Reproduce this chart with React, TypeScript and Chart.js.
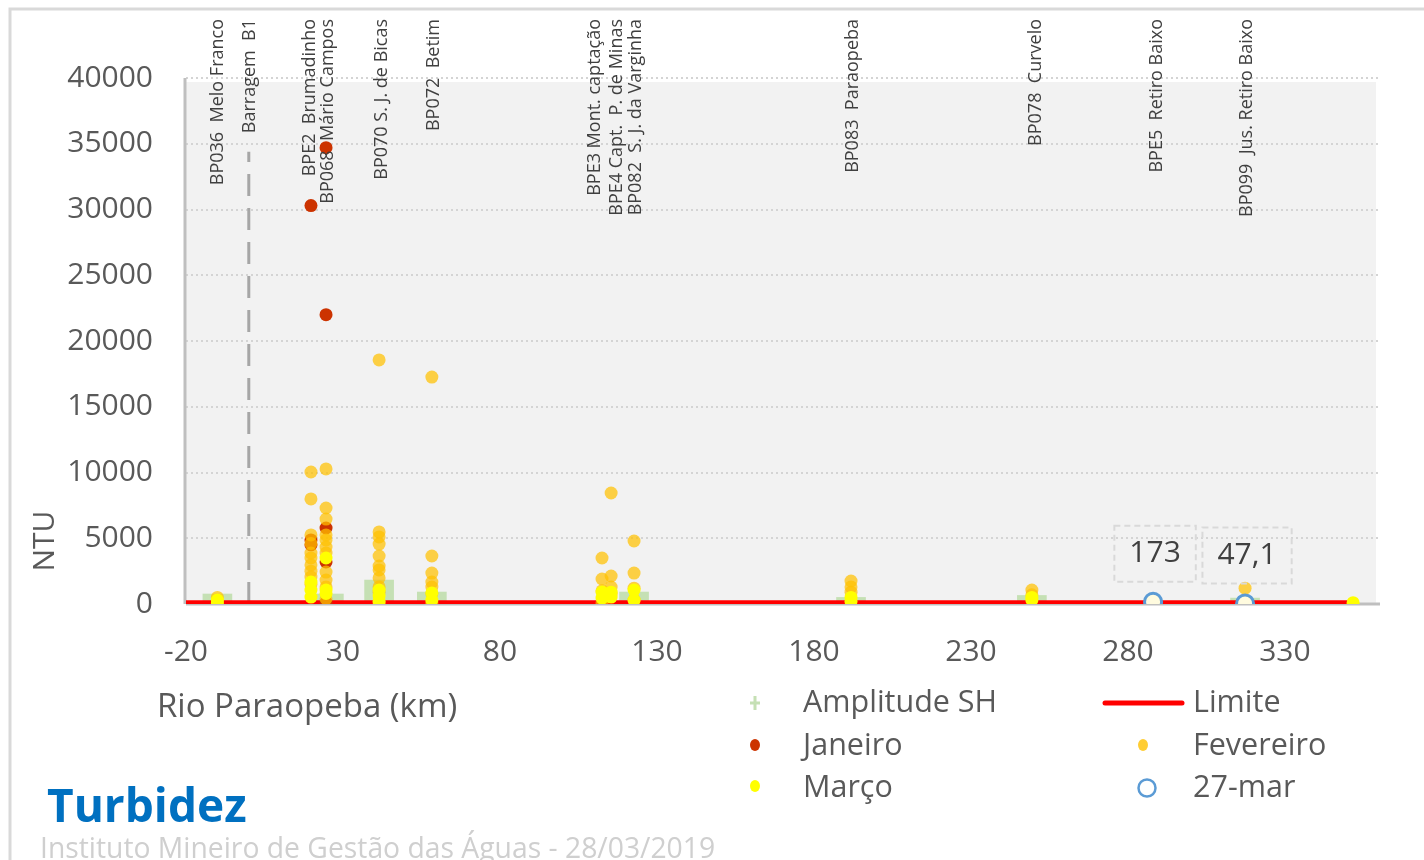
import React, { useEffect, useRef } from 'react';
import { Chart, registerables } from 'chart.js';

Chart.register(...registerables);

// ---------- axis ticks ----------
const xTicks = [-20, 30, 80, 130, 180, 230, 280, 330];
const yTicks = [0, 5000, 10000, 15000, 20000, 25000, 30000, 35000, 40000];

// ---------- station labels (km along the river) ----------
const stationNames = [
  'BP036  Melo Franco',
  'Barragem  B1',
  'BPE2  Brumadinho',
  'BP068  Mário Campos',
  'BP070 S. J. de Bicas',
  'BP072  Betim',
  'BPE3 Mont. captação',
  'BPE4 Capt.  P. de Minas',
  'BP082  S. J. da Varginha',
  'BP083  Paraopeba',
  'BP078  Curvelo',
  'BPE5  Retiro Baixo',
  'BP099  Jus. Retiro Baixo',
];
const stationLabelKm = [-9.8, 0.4, 19.5, 25.2, 42.4, 59, 110.3, 117.3, 123.3, 192.4, 250.7, 289.2, 317.9];

// ---------- Amplitude SH ----------
const ampKm = [-10, 25.5, 41.5, 58.3, 122.7, 191.8, 249.4, 317.3];
const ampVal = [760, 760, 1820, 910, 910, 500, 650, 450];

// ---------- Janeiro ----------
const janKm = [19.8, 19.8, 19.8, 24.6, 24.6, 24.6, 24.6, 24.6];
const janVal = [30300, 4870, 4500, 34700, 22000, 5780, 3200, 100];

// ---------- Fevereiro ----------
const fevKm = [
  -10,
  19.8, 19.8, 19.8, 19.8, 19.8, 19.8, 19.8, 19.8, 19.8, 19.8,
  24.6, 24.6, 24.6, 24.6, 24.6, 24.6, 24.6, 24.6, 24.6, 24.6, 24.6,
  41.5, 41.5, 41.5, 41.5, 41.5, 41.5, 41.5, 41.5, 41.5, 41.5, 41.5,
  58.3, 58.3, 58.3, 58.3, 58.3, 58.3, 58.3,
  112.5, 112.5, 112.5, 112.5,
  115.4, 115.4, 115.4, 115.4,
  122.7, 122.7, 122.7, 122.7,
  191.8, 191.8, 191.8,
  249.4, 249.4,
  317.3,
];
const fevVal = [
  500,
  10040, 7990, 5250, 4600, 3880, 3500, 2970, 2500, 2050, 1500,
  10270, 7300, 6460, 5250, 4870, 4330, 3880, 2430, 1820, 1300, 400,
  18560, 5480, 5100, 4560, 3650, 2890, 2590, 1980, 1300, 900, 0,
  17260, 3650, 2350, 1670, 1290, 800, 100,
  3500, 1900, 1000, 100,
  8440, 2130, 1290, 800,
  4790, 2350, 1200, 300,
  1750, 1300, 900,
  1060, 700,
  1200,
];

// ---------- Março ----------
const marKm = [
  -10, -10,
  19.8, 19.8, 19.8,
  24.6, 24.6, 24.6,
  41.5, 41.5, 41.5,
  58.3, 58.3,
  112.5, 112.5,
  115.4, 115.4,
  122.7, 122.7,
  191.8, 191.8,
  249.4, 249.4,
  351.7,
];
const marVal = [
  300, 100,
  1670, 1060, 530,
  3500, 1060, 800,
  1060, 600, 200,
  840, 300,
  910, 450,
  900, 530,
  1060, 300,
  500, 200,
  500, 300,
  100,
];

// ---------- 27-mar ----------
const mar27Km = [288, 317.3];
const mar27Val = [173, 47.1];

// ---------- Limite ----------
const limKm = [-20, 351.7];
const limVal = [100, 100];

// ---------- Barragem B1 marker ----------
const damKm = [0, 0];
const damVal = [0, 34400];

const pts = (xs: number[], ys: number[]) => xs.map((x, i) => ({ x, y: ys[i] }));

const FONT = '"Open Sans", "DejaVu Sans", sans-serif';
const TXT = '#595959';

const bgPlugin = {
  id: 'bgPlugin',
  beforeDatasetsDraw(chart: any) {
    const { ctx, chartArea } = chart;
    const { left, top, right, bottom } = chartArea;
    const y = chart.scales.y;
    ctx.save();
    // outer chart border
    ctx.strokeStyle = '#D9D9D9';
    ctx.lineWidth = 3;
    ctx.beginPath();
    ctx.moveTo(10, 860);
    ctx.lineTo(10, 9);
    ctx.lineTo(1424, 9);
    ctx.stroke();
    // plot background
    ctx.fillStyle = '#F2F2F2';
    ctx.fillRect(left, top + 4, right - left, bottom - top - 4);
    // dotted grid
    ctx.strokeStyle = '#D4D4D4';
    ctx.lineWidth = 2;
    ctx.setLineDash([2, 3]);
    yTicks.forEach((v) => {
      if (v === 0) return;
      const py = Math.round(y.getPixelForValue(v));
      ctx.beginPath();
      ctx.moveTo(left, py);
      ctx.lineTo(right + 4, py);
      ctx.stroke();
    });
    ctx.setLineDash([]);
    // axes lines
    ctx.strokeStyle = '#BFBFBF';
    ctx.lineWidth = 3;
    ctx.beginPath();
    ctx.moveTo(left - 1, top);
    ctx.lineTo(left - 1, bottom);
    ctx.stroke();
    ctx.beginPath();
    ctx.moveTo(left, bottom);
    ctx.lineTo(right + 4, bottom);
    ctx.stroke();
    ctx.restore();
  },
};

const overlayPlugin = {
  id: 'overlayPlugin',
  afterDraw(chart: any) {
    const { ctx } = chart;
    const x = chart.scales.x;
    const y = chart.scales.y;
    ctx.save();

    // station labels (rotated)
    ctx.font = `18px ${FONT}`;
    ctx.fillStyle = '#404040';
    stationNames.forEach((name, i) => {
      const px = x.getPixelForValue(stationLabelKm[i]);
      ctx.save();
      ctx.translate(px, 19);
      ctx.rotate(-Math.PI / 2);
      ctx.textAlign = 'right';
      ctx.textBaseline = 'middle';
      ctx.fillText(name, 0, 0);
      ctx.restore();
    });

    // data labels for 27-mar
    ctx.font = `30px ${FONT}`;
    mar27Km.forEach((km, i) => {
      const px = x.getPixelForValue(km);
      const py = y.getPixelForValue(mar27Val[i]);
      const label = String(mar27Val[i]).replace('.', ',');
      const w = ctx.measureText(label).width + 30;
      const h = 56;
      const cx = px + 2;
      const cy = py - 48;
      ctx.strokeStyle = '#D9D9D9';
      ctx.lineWidth = 2;
      ctx.setLineDash([6, 4]);
      ctx.strokeRect(cx - w / 2, cy - h / 2, w, h);
      ctx.setLineDash([]);
      ctx.fillStyle = '#404040';
      ctx.textAlign = 'center';
      ctx.textBaseline = 'middle';
      ctx.fillText(label, cx, cy);
    });

    // axis titles
    ctx.fillStyle = TXT;
    ctx.font = `33px ${FONT}`;
    ctx.textAlign = 'left';
    ctx.textBaseline = 'middle';
    ctx.fillText('Rio Paraopeba (km)', 157, 708);

    ctx.save();
    ctx.translate(45, 541);
    ctx.rotate(-Math.PI / 2);
    ctx.textAlign = 'center';
    ctx.textBaseline = 'middle';
    ctx.font = `30px ${FONT}`;
    ctx.fillText('NTU', 0, 0);
    ctx.restore();

    // legend
    const rows = [703, 746, 788];
    ctx.font = `30.5px ${FONT}`;
    ctx.textAlign = 'left';
    ctx.textBaseline = 'middle';
    ctx.fillStyle = TXT;
    ctx.fillText('Amplitude SH', 803, rows[0]);
    ctx.fillText('Janeiro', 803, rows[1]);
    ctx.fillText('Março', 803, rows[2]);
    ctx.fillText('Limite', 1193, rows[0]);
    ctx.fillText('Fevereiro', 1193, rows[1]);
    ctx.fillText('27-mar', 1193, rows[2]);

    // markers
    ctx.strokeStyle = '#C5E0B4';
    ctx.lineWidth = 3;
    ctx.beginPath();
    ctx.moveTo(755, rows[0] - 7);
    ctx.lineTo(755, rows[0] + 7);
    ctx.moveTo(750, rows[0]);
    ctx.lineTo(760, rows[0]);
    ctx.stroke();

    ctx.strokeStyle = '#FF0000';
    ctx.lineWidth = 5;
    ctx.lineCap = 'round';
    ctx.beginPath();
    ctx.moveTo(1105, rows[0]);
    ctx.lineTo(1182, rows[0]);
    ctx.stroke();

    const dot = (cx: number, cy: number, color: string) => {
      ctx.fillStyle = color;
      ctx.beginPath();
      ctx.ellipse(cx, cy, 5, 6, 0, 0, Math.PI * 2);
      ctx.fill();
    };
    dot(755, rows[1] - 1, '#CC3300');
    dot(1143, rows[1] - 1, 'rgba(255,192,0,0.8)');
    dot(755, rows[2] - 2, '#FFFF00');
    ctx.strokeStyle = '#5B9BD5';
    ctx.lineWidth = 2.5;
    ctx.fillStyle = '#FFFFFF';
    ctx.beginPath();
    ctx.arc(1147, rows[2], 8.5, 0, Math.PI * 2);
    ctx.fill();
    ctx.stroke();

    // title + footer
    ctx.fillStyle = '#0070C0';
    ctx.font = `bold 46px ${FONT}`;
    ctx.textBaseline = 'alphabetic';
    ctx.fillText('Turbidez', 47, 822);
    ctx.fillStyle = '#CFCFCF';
    ctx.font = `28.3px ${FONT}`;
    ctx.fillText('Instituto Mineiro de Gestão das Águas - 28/03/2019', 40, 858);

    ctx.restore();
  },
};

export default function App() {
  const ref = useRef<HTMLCanvasElement>(null);

  useEffect(() => {
    const canvas = ref.current;
    if (!canvas) return;
    const chart = new Chart(canvas, {
      type: 'scatter',
      data: {
        datasets: [
          {
            type: 'scatter',
            label: '27-mar',
            data: pts(mar27Km, mar27Val),
            pointRadius: 8.5,
            pointBorderWidth: 3,
            pointBorderColor: '#5B9BD5',
            pointBackgroundColor: '#FFFBDF',
            order: 0,
          },
          {
            type: 'scatter',
            label: 'Março',
            data: pts(marKm, marVal),
            pointRadius: 6.5,
            pointBorderWidth: 0,
            pointBackgroundColor: '#FFFF00',
            pointBorderColor: '#FFFF00',
            order: 1,
          },
          {
            type: 'scatter',
            label: 'Fevereiro',
            data: pts(fevKm, fevVal),
            pointRadius: 6.5,
            pointBorderWidth: 0,
            pointBackgroundColor: 'rgba(255,192,0,0.72)',
            pointBorderColor: 'rgba(255,192,0,0.72)',
            order: 2,
          },
          {
            type: 'scatter',
            label: 'Janeiro',
            data: pts(janKm, janVal),
            pointRadius: 6.5,
            pointBorderWidth: 0,
            pointBackgroundColor: '#CC3300',
            pointBorderColor: '#CC3300',
            order: 3,
          },
          {
            type: 'line',
            label: 'Limite',
            data: pts(limKm, limVal),
            borderColor: '#FF0000',
            borderWidth: 5,
            pointRadius: 0,
            fill: false,
            order: 4,
          },
          {
            type: 'line',
            label: 'Barragem B1',
            data: pts(damKm, damVal),
            borderColor: '#A6A6A6',
            borderWidth: 3,
            borderDash: [22, 12],
            pointRadius: 0,
            fill: false,
            order: 5,
          },
          {
            type: 'bar',
            label: 'Amplitude SH',
            data: pts(ampKm, ampVal),
            backgroundColor: '#C5E0B4',
            borderWidth: 0,
            barThickness: 29,
            order: 6,
          } as any,
        ],
      },
      options: {
        animation: false,
        responsive: false,
        devicePixelRatio: 1,
        layout: { padding: { left: 0, top: 78, right: 48, bottom: 0 } },
        plugins: {
          legend: { display: false },
          tooltip: { enabled: false },
        },
        scales: {
          x: {
            type: 'linear',
            min: -20,
            max: 359,
            offset: false,
            grid: { display: false, drawTicks: false },
            border: { display: false },
            afterBuildTicks: (s: any) => {
              s.ticks = xTicks.map((v) => ({ value: v }));
            },
            afterFit: (s: any) => {
              s.height = 256;
            },
            ticks: {
              padding: 30,
              maxRotation: 0,
              autoSkip: false,
              color: TXT,
              font: { family: FONT, size: 30 },
              callback: (v: any) => String(v),
            },
          },
          y: {
            type: 'linear',
            min: 0,
            max: 40000,
            grid: { display: false, drawTicks: false },
            border: { display: false },
            afterBuildTicks: (s: any) => {
              s.ticks = yTicks.map((v) => ({ value: v }));
            },
            afterFit: (s: any) => {
              s.width = 186;
            },
            ticks: {
              padding: 33,
              color: TXT,
              font: { family: FONT, size: 30 },
              callback: (v: any) => String(v),
            },
          },
        },
      } as any,
      plugins: [bgPlugin, overlayPlugin],
    });
    return () => chart.destroy();
  }, []);

  return (
    <div style={{ position: 'absolute', left: 0, top: 0, width: 1424, height: 860, background: '#FFFFFF' }}>
      <canvas ref={ref} width={1424} height={860} style={{ display: 'block' }} />
    </div>
  );
}
